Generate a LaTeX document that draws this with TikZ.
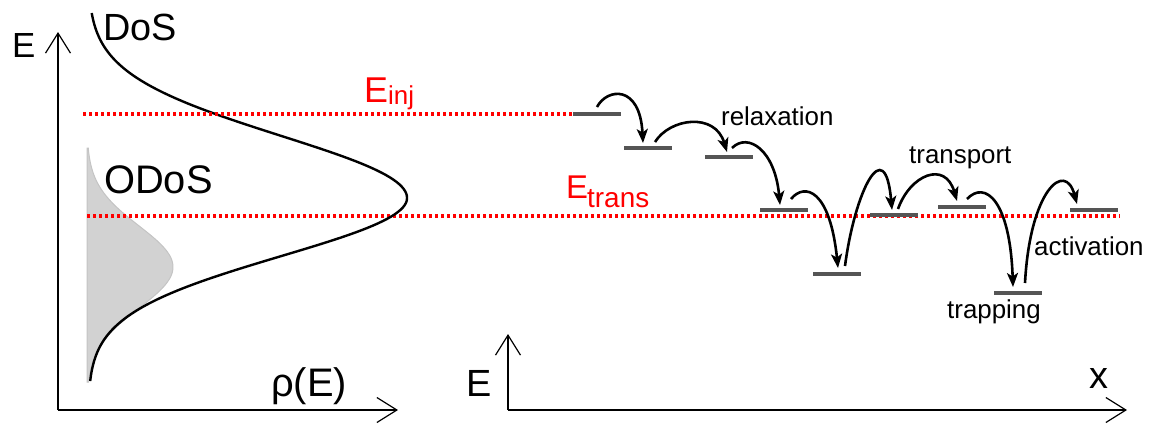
\documentclass[tikz,border=0pt]{standalone}
\usepackage{fontspec}
\setmainfont{Liberation Sans}
\usetikzlibrary{arrows.meta}
\definecolor{levelgray}{RGB}{85,85,85}
\definecolor{odosfill}{RGB}{210,210,210}
\definecolor{odosedge}{RGB}{196,196,196}
\definecolor{eline}{RGB}{255,0,0}
\newcommand{\fs}[1]{\fontsize{#1}{#1}\selectfont}
\begin{document}
\begin{tikzpicture}[x=1bp,y=-1bp,
  axisline/.style={line width=1.2bp, -{Straight Barb[length=20bp,width=25bp]}},
  energyline/.style={eline, line width=3.2bp, dash pattern=on 3.4bp off 2.6bp},
  levelbar/.style={rectangle, fill=levelgray, draw=none, inner sep=0pt,
                   minimum width=48bp, minimum height=3.2bp},
  hop/.style={line width=2.6bp, -{Stealth[length=14bp,width=11bp,inset=3.5bp]}},
  lbl/.style={anchor=base west, inner sep=0pt},
  dos/.style={line width=2.4bp, black}]
\useasboundingbox (0,0) rectangle (1153,423);

% ---- density of states panel ----
\coordinate (o1) at (58,410);
\coordinate (e1) at (58,32);
\coordinate (r1) at (398,410);

% occupied DoS (grey Gaussian)
\filldraw[fill=odosfill, draw=odosedge, line width=1bp]
  plot[domain=148:382, samples=120, variable=\t]
    ({87+86*exp(-0.5*((\t-267)/41)^2)}, \t) -- (87,382) -- (87,148) -- cycle;

% energy reference lines
\coordinate (inj0) at (83,114);
\coordinate (tr0) at (87,216);
\coordinate (tr1) at (1120,216);
\draw[energyline] (tr0) -- (tr1);

% DoS curve
\draw[dos] plot[domain=13:381, samples=160, variable=\t]
  ({88+319*exp(-0.5*((\t-198)/((\t<198)?62:58))^2)}, \t);

\draw[axisline] (o1) -- (e1);
\draw[axisline] (o1) -- (r1);

\node[lbl] (lE) at (12,57) {\fs{35}E};
\node[lbl] (lDoS) at (103,40) {\fs{38}DoS};
\node[lbl] (lODoS) at (104,193) {\fs{40}ODoS};
\node[lbl] (lrho) at (271,396) {\fs{40}ρ(E)};

% ---- hopping panel ----
\coordinate (o2) at (508,410);
\coordinate (e2) at (508,334);
\coordinate (x2) at (1127,410);
\draw[axisline] (o2) -- (e2);
\draw[axisline] (o2) -- (x2);
\node[lbl] (lE2) at (466,396) {\fs{38}E};
\node[lbl] (lx) at (1089,388) {\fs{38}x};

% localized states
\node[levelbar] (l1) at (597,114) {};
\node[levelbar] (l2) at (648,148) {};
\node[levelbar] (l3) at (729,157) {};
\node[levelbar] (l4) at (784,210) {};
\node[levelbar] (l5) at (836.5,274) {};
\node[levelbar] (l6) at (894,215) {};
\node[levelbar] (l7) at (962,207) {};
\node[levelbar] (l8) at (1018,293) {};
\node[levelbar] (l9) at (1094,210) {};

\draw[energyline] (inj0) -- (l1.west);

% hops between states
\draw[hop] ([shift={(0,-7)}]l1.center) .. controls (607,88) and (640,84) .. ([shift={(-5,-5)}]l2.center);
\draw[hop] ([shift={(7,-6)}]l2.center) .. controls (670,118) and (715,112) .. ([shift={(-2,-5)}]l3.center);
\draw[hop] ([shift={(3,-9)}]l3.center) .. controls (748,132) and (775,150) .. ([shift={(-4,-5)}]l4.center);
\draw[hop] ([shift={(7,-11)}]l4.center) .. controls (805,182) and (830,190) .. ([shift={(1.5,-6)}]l5.center);
\draw[hop] ([shift={(8.5,-8)}]l5.center) .. controls (855,190) and (885,132) .. ([shift={(-2,-5)}]l6.center);
\draw[hop] ([shift={(4,-6)}]l6.center) .. controls (910,175) and (945,160) .. ([shift={(-5,-6)}]l7.center);
\draw[hop] ([shift={(5,-8)}]l7.center) .. controls (985,180) and (1010,200) .. ([shift={(-5,-6)}]l8.center);
\draw[hop] ([shift={(7,-10)}]l8.center) .. controls (1030,190) and (1065,160) .. ([shift={(-17,-6)}]l9.center);

% energy labels
\node[lbl, text=eline] (linj) at (364,102) {\fs{36}E};
\node[lbl, text=eline] (linjs) at (388,104) {\fs{26}inj};
\node[lbl, text=eline] (ltr) at (566,198) {\fs{33}E};
\node[lbl, text=eline] (ltrs) at (587,207) {\fs{28}trans};

% process labels
\node[lbl] (lrel) at (721,125) {\fs{26}relaxation};
\node[lbl] (ltp) at (909,163) {\fs{26}transport};
\node[lbl] (lact) at (1034,255) {\fs{26}activation};
\node[lbl] (ltrap) at (947,318) {\fs{26}trapping};
\end{tikzpicture}
\end{document}
